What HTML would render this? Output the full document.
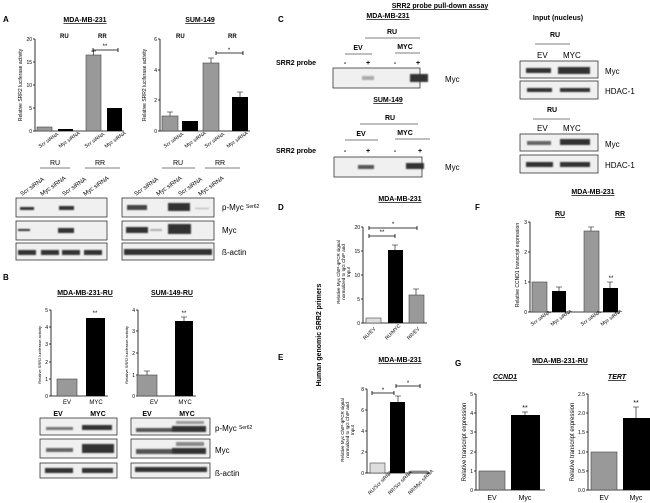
<!DOCTYPE html>
<html><head><meta charset="utf-8"><style>
body{margin:0;background:#fff}
svg{display:block;font-family:"Liberation Sans",Arial,sans-serif}
.t{font-size:7px;font-weight:bold;text-decoration:underline}
.L{font-size:8px;font-weight:bold}
.k{font-size:5px}
.yl{font-size:5px}
.bl{font-size:7px}
</style></head><body>
<svg width="650" height="503" viewBox="0 0 650 503" xmlns="http://www.w3.org/2000/svg">
<defs>
<filter id="bl" x="-20%" y="-50%" width="140%" height="200%"><feGaussianBlur stdDeviation="0.9"/></filter>
</defs>
<g fill="#000">
<text x="3" y="22" class="L">A</text>
<text x="3" y="280" class="L">B</text>
<text x="278" y="22" class="L">C</text>
<text x="278" y="210" class="L">D</text>
<text x="278" y="360" class="L">E</text>
<text x="475" y="210" class="L">F</text>
<text x="455" y="366" class="L">G</text>

<text x="85" y="22" class="t" text-anchor="middle">MDA-MB-231</text>
<text x="60" y="38" font-size="6" font-weight="bold">RU</text>
<text x="98" y="38" font-size="6" font-weight="bold">RR</text>
<text transform="translate(22,85) rotate(-90)" class="yl" text-anchor="middle">Relative SRR2 luciferase activity</text>
<g stroke="#000" stroke-width="0.8" fill="none">
<path d="M35 39V131H124"/><path d="M33 39H35M33 62H35M33 85H35M33 108H35M33 131H35"/>
<path d="M93 50H118M93 48V52M118 48V52"/>
</g>
<g class="k" text-anchor="end"><text x="32" y="41">20</text><text x="32" y="64">15</text><text x="32" y="87">10</text><text x="32" y="110">5</text><text x="32" y="133">0</text></g>
<text x="105" y="48" font-size="6" text-anchor="middle">**</text>
<rect x="37" y="127" width="15" height="4" fill="#999" stroke="#444" stroke-width=".6"/>
<rect x="58" y="129" width="15" height="2"/>
<rect x="86" y="55" width="15" height="76" fill="#999" stroke="#444" stroke-width=".6"/>
<path d="M93.5 55V51M91 51H96" stroke="#000" stroke-width=".6"/>
<rect x="107" y="108" width="15" height="23"/>
<g class="k"><text transform="translate(40,148) rotate(-35)">Scr siRNA</text><text transform="translate(60,148) rotate(-35)">Myc siRNA</text><text transform="translate(86,148) rotate(-35)">Scr siRNA</text><text transform="translate(106,148) rotate(-35)">Myc siRNA</text></g>

<text x="200" y="22" class="t" text-anchor="middle">SUM-149</text>
<text x="176" y="38" font-size="6" font-weight="bold">RU</text>
<text x="228" y="38" font-size="6" font-weight="bold">RR</text>
<text transform="translate(146,85) rotate(-90)" class="yl" text-anchor="middle">Relative SRR2 luciferase activity</text>
<g stroke="#000" stroke-width="0.8" fill="none">
<path d="M160 39V131H250"/><path d="M158 39H160M158 70H160M158 100H160M158 131H160"/>
<path d="M216 53H243M216 51V55M243 51V55"/>
</g>
<g class="k" text-anchor="end"><text x="157" y="41">6</text><text x="157" y="72">4</text><text x="157" y="102">2</text><text x="157" y="133">0</text></g>
<text x="229" y="52" font-size="6" text-anchor="middle">*</text>
<rect x="162" y="116" width="16" height="15" fill="#999" stroke="#444" stroke-width=".6"/>
<path d="M170 116V112M167 112H173" stroke="#000" stroke-width=".6"/>
<rect x="182" y="121" width="16" height="10"/>
<rect x="203" y="63" width="16" height="68" fill="#999" stroke="#444" stroke-width=".6"/>
<path d="M211 63V58M208 58H214" stroke="#000" stroke-width=".6"/>
<rect x="232" y="97" width="16" height="34"/>
<path d="M240 97V92M237 92H243" stroke="#000" stroke-width=".6"/>
<g class="k"><text transform="translate(165,148) rotate(-35)">Scr siRNA</text><text transform="translate(186,148) rotate(-35)">Myc siRNA</text><text transform="translate(206,148) rotate(-35)">Scr siRNA</text><text transform="translate(228,148) rotate(-35)">Myc siRNA</text></g>

<g font-size="7" text-anchor="middle"><text x="55" y="165">RU</text><text x="100" y="165">RR</text><text x="178" y="165">RU</text><text x="220" y="165">RR</text></g>
<g stroke="#000" stroke-width=".6"><path d="M40 168H70M85 168H120M162 168H195M205 168H240"/></g>
<g font-size="6"><text transform="translate(22,196) rotate(-35)">Scr siRNA</text><text transform="translate(42,196) rotate(-35)">Myc siRNA</text><text transform="translate(64,196) rotate(-35)">Scr siRNA</text><text transform="translate(85,196) rotate(-35)">Myc siRNA</text>
<text transform="translate(136,196) rotate(-35)">Scr siRNA</text><text transform="translate(158,196) rotate(-35)">Myc siRNA</text><text transform="translate(180,196) rotate(-35)">Scr siRNA</text><text transform="translate(200,196) rotate(-35)">Myc siRNA</text></g>
<g fill="#f0f0f0" stroke="#333" stroke-width=".8">
<rect x="16" y="198" width="91" height="19"/><rect x="16" y="221" width="91" height="19"/><rect x="16" y="243" width="91" height="17"/>
<rect x="122" y="198" width="92" height="19"/><rect x="122" y="221" width="92" height="19"/><rect x="122" y="243" width="92" height="17"/>
</g>
<g filter="url(#bl)" fill="#333">
<rect x="20" y="207" width="14" height="3"/><rect x="59" y="206" width="15" height="4"/>
<rect x="18" y="229" width="12" height="2"/><rect x="58" y="228" width="16" height="5"/>
<rect x="18" y="250" width="18" height="5"/><rect x="41" y="250" width="18" height="5"/><rect x="62" y="250" width="18" height="5"/><rect x="84" y="250" width="18" height="5"/>
<rect x="127" y="205" width="20" height="5" fill="#444"/><rect x="168" y="203" width="22" height="8"/><rect x="195" y="208" width="14" height="1" fill="#aaa"/>
<rect x="126" y="227" width="22" height="6"/><rect x="168" y="224" width="23" height="10"/><rect x="150" y="229" width="12" height="2" fill="#aaa"/>
<rect x="124" y="249" width="88" height="6"/>
</g>
<g font-size="8"><text x="222" y="210">p-Myc <tspan font-size="5" dy="-2">Ser62</tspan></text><text x="222" y="233">Myc</text><text x="222" y="255">ß-actin</text></g>

<text x="85" y="295" class="t" text-anchor="middle">MDA-MB-231-RU</text>
<text x="172" y="295" class="t" text-anchor="middle">SUM-149-RU</text>
<text transform="translate(41,355) rotate(-90)" font-size="4" text-anchor="middle">Relative SRR2 luciferase activity</text>
<text transform="translate(128,355) rotate(-90)" font-size="4" text-anchor="middle">Relative SRR2 luciferase activity</text>
<g stroke="#000" stroke-width=".8" fill="none">
<path d="M51 310V396H108"/><path d="M49 310H51M49 327H51M49 344H51M49 362H51M49 379H51M49 396H51"/>
<path d="M138 310V396H196"/><path d="M136 310H138M136 331H138M136 353H138M136 375H138M136 396H138"/>
<path d="M147 375V371M144 371H150M184 321V317M181 317H187" stroke-width=".6"/>
</g>
<g class="k" text-anchor="end"><text x="48" y="312">5</text><text x="48" y="329">4</text><text x="48" y="346">3</text><text x="48" y="364">2</text><text x="48" y="381">1</text><text x="48" y="398">0</text>
<text x="135" y="312">4</text><text x="135" y="333">3</text><text x="135" y="355">2</text><text x="135" y="377">1</text><text x="135" y="398">0</text></g>
<rect x="57" y="379" width="20" height="17" fill="#999" stroke="#444" stroke-width=".6"/>
<rect x="86" y="318" width="19" height="78"/>
<text x="95" y="315" font-size="6" text-anchor="middle">**</text>
<rect x="137" y="375" width="20" height="21" fill="#999" stroke="#444" stroke-width=".6"/>
<rect x="175" y="321" width="18" height="75"/>
<text x="184" y="315" font-size="6" text-anchor="middle">**</text>
<g font-size="6" text-anchor="middle"><text x="67" y="404">EV</text><text x="96" y="404">MYC</text><text x="154" y="404">EV</text><text x="185" y="404">MYC</text></g>
<g font-size="7" font-weight="bold" text-anchor="middle"><text x="58" y="416">EV</text><text x="98" y="416">MYC</text><text x="147" y="416">EV</text><text x="187" y="416">MYC</text></g>
<g fill="#f0f0f0" stroke="#333" stroke-width=".8">
<rect x="40" y="418" width="77" height="17"/><rect x="40" y="439" width="77" height="19"/><rect x="40" y="463" width="77" height="15"/>
<rect x="131" y="418" width="79" height="17"/><rect x="131" y="439" width="79" height="19"/><rect x="131" y="463" width="79" height="15"/>
</g>
<g filter="url(#bl)" fill="#333">
<rect x="46" y="427" width="27" height="3" fill="#777"/><rect x="82" y="425" width="30" height="5"/>
<rect x="46" y="448" width="27" height="4" fill="#666"/><rect x="82" y="444" width="32" height="9"/>
<rect x="45" y="468" width="28" height="5"/><rect x="82" y="468" width="31" height="5"/>
<rect x="136" y="428" width="36" height="4" fill="#555"/><rect x="172" y="426" width="34" height="6"/><rect x="176" y="421" width="28" height="3" fill="#999"/>
<rect x="136" y="449" width="36" height="5" fill="#555"/><rect x="172" y="448" width="34" height="6"/><rect x="176" y="442" width="28" height="4" fill="#888"/>
<rect x="135" y="467" width="72" height="5"/>
</g>
<g font-size="8"><text x="215" y="431">p-Myc <tspan font-size="5" dy="-2">Ser62</tspan></text><text x="215" y="453">Myc</text><text x="215" y="476">ß-actin</text></g>

<text x="440" y="8" class="t" text-anchor="middle">SRR2 probe pull-down assay</text>
<text x="388" y="18" class="t" text-anchor="middle">MDA-MB-231</text>
<g font-size="7" font-weight="bold" text-anchor="middle">
<text x="392" y="34">RU</text><text x="358" y="50">EV</text><text x="405" y="49">MYC</text>
<text x="388" y="102" text-decoration="underline">SUM-149</text>
<text x="390" y="120">RU</text><text x="361" y="136">EV</text><text x="405" y="135">MYC</text>
<text x="558" y="20" font-weight="bold">Input (nucleus)</text>
<text x="555" y="37">RU</text><text x="552" y="112">RU</text>
</g>
<g stroke="#000" stroke-width=".6"><path d="M365 38H420M345 54H372M395 53H420M360 124H418M345 140H378M395 139H430M535 44H570M533 119H570"/></g>
<g font-size="7" font-weight="bold"><text x="276" y="65">SRR2 probe</text><text x="276" y="153">SRR2 probe</text></g>
<g font-size="7" font-weight="bold" text-anchor="middle"><text x="345" y="65">-</text><text x="368" y="65">+</text><text x="395" y="65">-</text><text x="418" y="65">+</text>
<text x="345" y="153">-</text><text x="368" y="153">+</text><text x="395" y="153">-</text><text x="420" y="153">+</text></g>
<g fill="#f0f0f0" stroke="#333" stroke-width=".8">
<rect x="333" y="68" width="87" height="20"/><rect x="334" y="157" width="88" height="20"/>
<rect x="520" y="61" width="78" height="17"/><rect x="520" y="81" width="78" height="18"/>
<rect x="520" y="134" width="78" height="17"/><rect x="520" y="155" width="78" height="18"/>
</g>
<g filter="url(#bl)" fill="#333">
<rect x="362" y="76" width="12" height="4" fill="#aaa"/><rect x="410" y="74" width="18" height="8"/>
<rect x="358" y="165" width="16" height="4" fill="#555"/><rect x="406" y="163" width="18" height="6"/>
<rect x="526" y="68" width="25" height="5"/><rect x="558" y="67" width="32" height="7"/>
<rect x="527" y="88" width="25" height="4"/><rect x="560" y="88" width="30" height="4"/>
<rect x="527" y="141" width="24" height="4" fill="#666"/><rect x="560" y="139" width="30" height="6"/>
<rect x="526" y="162" width="27" height="5"/><rect x="560" y="162" width="30" height="5"/>
</g>
<g font-size="8"><text x="445" y="82">Myc</text><text x="445" y="170">Myc</text></g>
<g font-size="8"><text x="537" y="58">EV</text><text x="563" y="58">MYC</text><text x="537" y="131">EV</text><text x="563" y="131">MYC</text>
<text x="605" y="74">Myc</text><text x="605" y="94">HDAC-1</text><text x="605" y="147">Myc</text><text x="605" y="168">HDAC-1</text></g>

<text x="400" y="201" class="t" text-anchor="middle">MDA-MB-231</text>
<text transform="translate(321,335) rotate(-90)" font-size="7" font-weight="bold" text-anchor="middle">Human genomic SRR2 primers</text>
<g font-size="4.5" text-anchor="middle"><text transform="translate(340,272) rotate(-90)">Relative Myc ChIP-qPCR signal</text><text transform="translate(345,272) rotate(-90)">normalized to IgG ChIP and</text><text transform="translate(350,272) rotate(-90)">Input</text></g>
<g stroke="#000" stroke-width=".8" fill="none">
<path d="M363 227V323H427"/><path d="M361 227H363M361 251H363M361 275H363M361 299H363M361 323H363"/>
<path d="M369 228H417M369 226V230M417 226V230M369 236H395M369 234V238M395 234V238"/>
<path d="M395 250V245M392 245H398M416 295V289M413 289H419" stroke-width=".6"/>
</g>
<g class="k" text-anchor="end"><text x="360" y="229">20</text><text x="360" y="253">15</text><text x="360" y="277">10</text><text x="360" y="301">5</text><text x="360" y="325">0</text></g>
<text x="393" y="226" font-size="6" text-anchor="middle">*</text><text x="382" y="234" font-size="6" text-anchor="middle">**</text>
<rect x="366" y="318" width="15" height="5" fill="#ddd" stroke="#444" stroke-width=".6"/>
<rect x="388" y="250" width="15" height="73"/>
<rect x="409" y="295" width="15" height="28" fill="#999" stroke="#444" stroke-width=".6"/>
<g class="k"><text transform="translate(365,340) rotate(-45)">RU/EV</text><text transform="translate(387,340) rotate(-45)">RU/MYC</text><text transform="translate(409,340) rotate(-45)">RR/EV</text></g>

<text x="400" y="362" class="t" text-anchor="middle">MDA-MB-231</text>
<g font-size="4.5" text-anchor="middle"><text transform="translate(344,430) rotate(-90)">Relative Myc ChIP-qPCR signal</text><text transform="translate(349,430) rotate(-90)">normalized to IgG ChIP and</text><text transform="translate(354,430) rotate(-90)">Input</text></g>
<g stroke="#000" stroke-width=".8" fill="none">
<path d="M367 389V473H430"/><path d="M365 389H367M365 410H367M365 431H367M365 452H367M365 473H367"/>
<path d="M372 393H394M372 391V395M394 391V395M396 386H420M396 384V388M420 384V388"/>
<path d="M398 402V396M395 396H401" stroke-width=".6"/>
</g>
<g class="k" text-anchor="end"><text x="364" y="391">8</text><text x="364" y="412">6</text><text x="364" y="433">4</text><text x="364" y="454">2</text><text x="364" y="475">0</text></g>
<text x="383" y="392" font-size="6" text-anchor="middle">*</text><text x="408" y="385" font-size="6" text-anchor="middle">*</text>
<rect x="370" y="463" width="15" height="10" fill="#ddd" stroke="#444" stroke-width=".6"/>
<rect x="390" y="402" width="15" height="71"/>
<rect x="410" y="471" width="18" height="2" fill="#999" stroke="#444" stroke-width=".5"/>
<g class="k"><text transform="translate(370,495) rotate(-45)">RU/Scr siRNA</text><text transform="translate(390,495) rotate(-45)">RR/Scr siRNA</text><text transform="translate(410,495) rotate(-45)">RR/Myc siRNA</text></g>

<text x="593" y="194" class="t" text-anchor="middle">MDA-MB-231</text>
<text x="560" y="216" class="t" text-anchor="middle">RU</text><text x="620" y="216" class="t" text-anchor="middle">RR</text>
<text transform="translate(519,265) rotate(-90)" font-size="5" text-anchor="middle">Relative CCND1 transcript expression</text>
<g stroke="#000" stroke-width=".8" fill="none">
<path d="M530 222V312H620"/><path d="M528 222H530M528 252H530M528 282H530M528 312H530"/>
<path d="M559 291V287M556 287H562M591 231V227M588 227H594M610 288V282M607 282H613" stroke-width=".6"/>
</g>
<g class="k" text-anchor="end"><text x="527" y="224">3</text><text x="527" y="254">2</text><text x="527" y="284">1</text><text x="527" y="314">0</text></g>
<rect x="532" y="282" width="15" height="30" fill="#999" stroke="#444" stroke-width=".6"/>
<rect x="552" y="291" width="14" height="21"/>
<rect x="584" y="231" width="15" height="81" fill="#999" stroke="#444" stroke-width=".6"/>
<rect x="603" y="288" width="15" height="24"/>
<text x="611" y="280" font-size="6" text-anchor="middle">**</text>
<g class="k"><text transform="translate(532,326) rotate(-35)">Scr siRNA</text><text transform="translate(552,326) rotate(-35)">Myc siRNA</text><text transform="translate(582,326) rotate(-35)">Scr siRNA</text><text transform="translate(602,326) rotate(-35)">Myc siRNA</text></g>

<text x="560" y="363" class="t" text-anchor="middle">MDA-MB-231-RU</text>
<text x="505" y="379" class="t" text-anchor="middle" font-style="italic">CCND1</text>
<text x="617" y="379" class="t" text-anchor="middle" font-style="italic">TERT</text>
<text transform="translate(466,442) rotate(-90)" font-size="6" text-anchor="middle">Relative transcript expression</text>
<text transform="translate(574,442) rotate(-90)" font-size="6" text-anchor="middle">Relative transcript expression</text>
<g stroke="#000" stroke-width=".8" fill="none">
<path d="M476 394V490H545"/><path d="M474 394H476M474 413H476M474 432H476M474 452H476M474 471H476M474 490H476"/>
<path d="M588 394V490H650"/><path d="M586 394H588M586 413H588M586 432H588M586 452H588M586 471H588M586 490H588"/>
<path d="M525 415V412M522 412H528M636 418V407M633 407H639" stroke-width=".6"/>
</g>
<g class="k" text-anchor="end"><text x="473" y="396">5</text><text x="473" y="415">4</text><text x="473" y="434">3</text><text x="473" y="454">2</text><text x="473" y="473">1</text><text x="473" y="492">0</text>
<text x="585" y="396">2.5</text><text x="585" y="415">2.0</text><text x="585" y="434">1.5</text><text x="585" y="454">1.0</text><text x="585" y="473">0.5</text><text x="585" y="492">0.0</text></g>
<rect x="479" y="471" width="26" height="19" fill="#999" stroke="#444" stroke-width=".6"/>
<rect x="511" y="415" width="29" height="75"/>
<text x="525" y="410" font-size="7" text-anchor="middle">**</text>
<rect x="591" y="452" width="26" height="38" fill="#999" stroke="#444" stroke-width=".6"/>
<rect x="623" y="418" width="27" height="72"/>
<text x="636" y="405" font-size="7" text-anchor="middle">**</text>
<g font-size="7" text-anchor="middle"><text x="492" y="500">EV</text><text x="525" y="500">Myc</text><text x="604" y="500">EV</text><text x="636" y="500">Myc</text></g>
</g>
</svg>
</body></html>
